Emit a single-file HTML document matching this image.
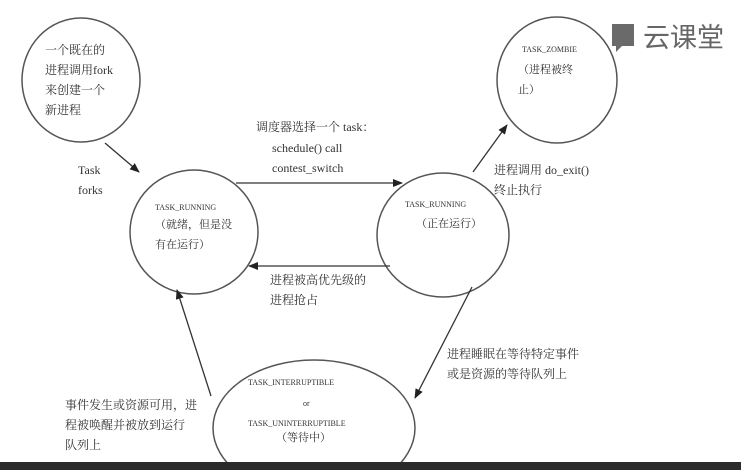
<!DOCTYPE html>
<html style="overflow:hidden;width:741px;height:470px"><head><meta charset="utf-8"><style>
body{margin:0;background:#fff;width:741px;height:470px;overflow:hidden;position:relative;font-family:"Liberation Serif","Noto Serif CJK SC",serif;color:#333}
.t{position:absolute;font-size:12px;line-height:20px;white-space:nowrap}
.s{position:absolute;font-size:8px;white-space:nowrap;font-family:"Liberation Serif",serif}
</style></head><body>
<svg width="741" height="470" viewBox="0 0 741 470" style="position:absolute;left:0;top:0;overflow:hidden">
<defs><marker id="a" markerWidth="10" markerHeight="8" refX="9" refY="4" orient="auto" markerUnits="userSpaceOnUse"><path d="M0,0L10,4L0,8z" fill="#222"/></marker>
<clipPath id="c"><rect x="0" y="0" width="741" height="462"/></clipPath></defs>
<g fill="none" stroke="#555" stroke-width="1.5">
<ellipse cx="81" cy="80" rx="59" ry="62"/>
<ellipse cx="194" cy="232" rx="64" ry="62"/>
<ellipse cx="443" cy="235" rx="66" ry="62"/>
<ellipse cx="557" cy="80" rx="60" ry="63"/>
<ellipse cx="314" cy="428" rx="101" ry="68" clip-path="url(#c)"/>
</g>
<g stroke="#333" stroke-width="1.3" fill="none" marker-end="url(#a)">
<line x1="105" y1="143" x2="139" y2="172"/>
<line x1="236" y1="183" x2="402" y2="183"/>
<line x1="390" y1="266" x2="249" y2="266"/>
<line x1="473" y1="172" x2="507" y2="125"/>
<line x1="472" y1="287" x2="415" y2="398"/>
<line x1="211" y1="396" x2="177" y2="290"/>
</g>
<rect x="0" y="462" width="741" height="8" fill="#2b2b2b"/>
<rect x="612" y="24" width="22" height="22" fill="#6a6a6a"/>
<path d="M616,46 L616,52 L622,46z" fill="#6a6a6a"/>
</svg>
<div class="t" style="left:643px;top:20px;font-size:27px;line-height:32px;color:#666;font-family:'Noto Sans CJK SC',sans-serif">云课堂</div>
<div class="t" style="left:45px;top:40px">一个既在的<br>进程调用fork<br>来创建一个<br>新进程</div>
<div class="t" style="left:78px;top:160px">Task<br>forks</div>
<div class="s" style="left:155px;top:203px">TASK_RUNNING</div>
<div class="t" style="left:155px;top:215px;font-size:11px">（就绪，但是没<br>有在运行）</div>
<div class="t" style="left:256px;top:117px">调度器选择一个 task：</div>
<div class="t" style="left:272px;top:138px">schedule() call</div>
<div class="t" style="left:272px;top:158px">contest_switch</div>
<div class="s" style="left:405px;top:200px">TASK_RUNNING</div>
<div class="t" style="left:416px;top:214px;font-size:11px">（正在运行）</div>
<div class="s" style="left:522px;top:45px">TASK_ZOMBIE</div>
<div class="t" style="left:518px;top:60px;font-size:11px">（进程被终<br>止）</div>
<div class="t" style="left:494px;top:160px">进程调用 do_exit()<br>终止执行</div>
<div class="t" style="left:270px;top:270px">进程被高优先级的<br>进程抢占</div>
<div class="t" style="left:447px;top:344px">进程睡眠在等待特定事件<br>或是资源的等待队列上</div>
<div class="t" style="left:65px;top:395px">事件发生或资源可用，进<br>程被唤醒并被放到运行<br>队列上</div>
<div class="s" style="left:248px;top:378px">TASK_INTERRUPTIBLE</div>
<div class="s" style="left:303px;top:399px">or</div>
<div class="s" style="left:248px;top:419px">TASK_UNINTERRUPTIBLE</div>
<div class="t" style="left:276px;top:428px;font-size:11px">（等待中）</div>
</body></html>
